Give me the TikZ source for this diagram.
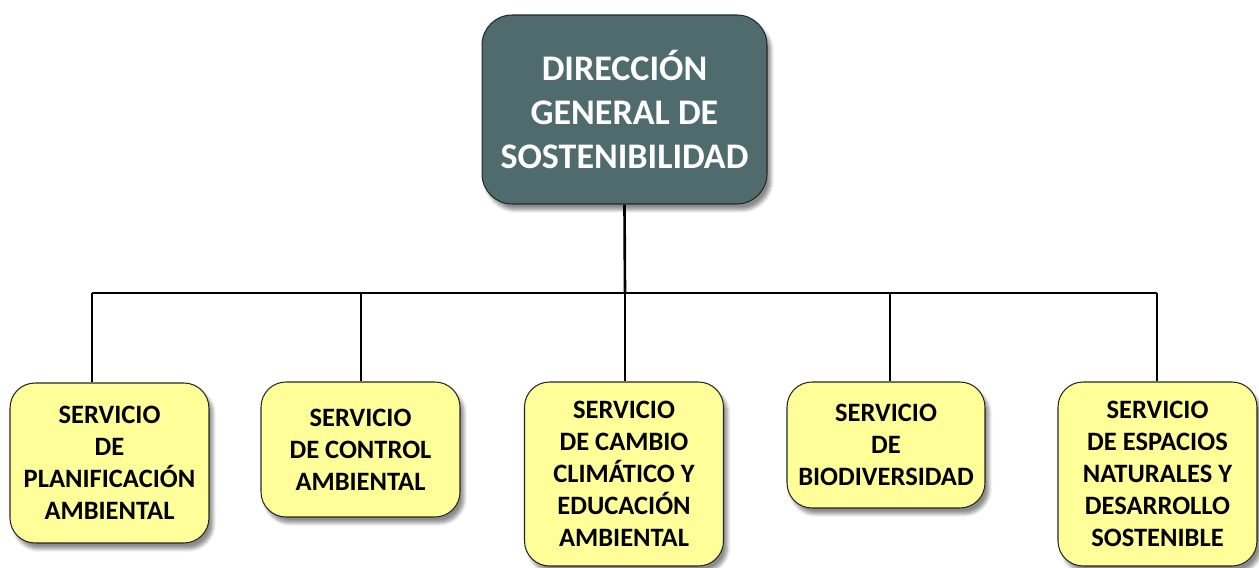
\documentclass[tikz,border=0pt]{standalone}
\usepackage{fontspec}
\setmainfont{Carlito}[BoldFont={Carlito Bold}]
\usepackage{tikz}
\usetikzlibrary{shadows.blur}
\definecolor{direccion}{HTML}{4F6B6E}
\definecolor{servicio}{HTML}{FFFF99}

\begin{document}
\begin{tikzpicture}[x=0.02cm, y=-0.02cm, line/.style = {line width=1.5pt, black}]
	\tikzset{box/.style={draw=black!85, line width=0.6pt, rounded corners=0.5cm, inner sep=0pt, align=center, minimum width=3.98cm, fill=servicio, font=\bfseries\fontsize{15.1}{18.2}\selectfont, blur shadow={shadow xshift=0.08cm, shadow yshift=-0.12cm, shadow blur steps=6, shadow opacity=45}}}

	\useasboundingbox (0,0) rectangle (1259,568);

	% Direccion
	\node[box, minimum width=5.7cm, minimum height=3.78cm, rounded corners=0.6cm, fill=direccion, text=white, font=\bfseries\fontsize{20.5}{25.2}\selectfont] (dir) at (624.5,109.5) {DIRECCIÓN\\GENERAL DE\\SOSTENIBILIDAD};

	% Servicios
	\node[box, minimum height=3.2cm] (plan) at (109.5,463) {SERVICIO\\DE\\PLANIFICACIÓN\\AMBIENTAL};
	\node[box, minimum height=2.7cm] (control) at (360.5,449.5) {SERVICIO\\DE CONTROL\\AMBIENTAL};
	\node[box, minimum height=3.68cm] (cambio) at (624,474) {SERVICIO\\DE CAMBIO\\CLIMÁTICO Y\\EDUCACIÓN\\AMBIENTAL};
	\node[box, minimum height=2.52cm, minimum width=3.96cm] (biodiv) at (886,445) {SERVICIO\\DE\\BIODIVERSIDAD};
	\node[box, minimum height=3.68cm] (espacios) at (1157.5,474) {SERVICIO\\DE ESPACIOS\\NATURALES Y\\DESARROLLO\\SOSTENIBLE};

	% Lineas
	\coordinate (j1) at (92,293);
	\coordinate (j2) at (361,293);
	\coordinate (j3) at (625,293);
	\coordinate (j4) at (890,293);
	\coordinate (j5) at (1157,293);

	\draw [line] (dir.south) -- (j3);
	\draw [line] (j1) -- (j5);
	\draw [line] (j1) -- (j1 |- plan.north);
	\draw [line] (j2) -- (j2 |- control.north);
	\draw [line] (j3) -- (j3 |- cambio.north);
	\draw [line] (j4) -- (j4 |- biodiv.north);
	\draw [line] (j5) -- (j5 |- espacios.north);

\end{tikzpicture}
\end{document}
